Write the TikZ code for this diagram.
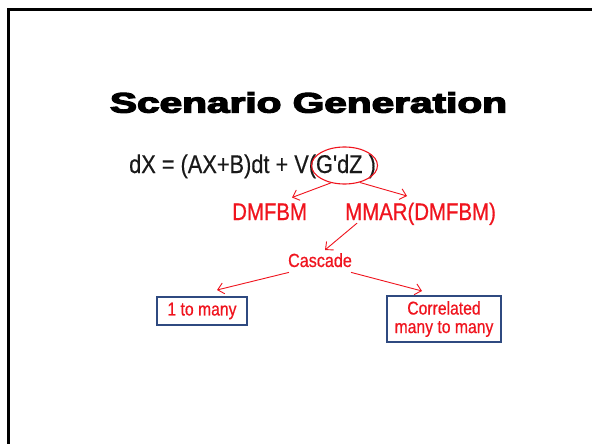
\documentclass[tikz,border=0pt]{standalone}
\usepackage{fontspec}
\setmainfont{Liberation Sans}
\newfontfamily\titlefont[FakeBold=4]{Liberation Sans Bold}
\newfontfamily\condfont[FakeStretch=0.85,FakeBold=0.6]{Liberation Sans}
\newfontfamily\eqfont[FakeStretch=0.85,FakeBold=0.4]{Liberation Sans}
\usetikzlibrary{arrows.meta,shapes.geometric,calc}
\definecolor{redtxt}{HTML}{F0141E}
\definecolor{boxblue}{HTML}{2F4A80}
\tikzset{
  redlabel/.style={text=redtxt, font=\condfont\fontsize{24}{26}\selectfont, inner sep=0pt},
  smalllabel/.style={text=redtxt, font=\condfont\fontsize{19}{21}\selectfont, inner sep=0pt},
  boxnode/.style={draw=boxblue, line width=1.3pt, text=redtxt, font=\condfont\fontsize{18.5}{18.5}\selectfont, align=center, inner sep=0pt},
  redarrow/.style={draw=redtxt, line width=0.9pt, -{Straight Barb[length=6pt,width=11pt]}},
  frameline/.style={line width=2.5pt, black}
}
\begin{document}
\begin{tikzpicture}[x=1pt,y=-1pt]
\useasboundingbox (0,0) rectangle (592,444);
\fill[white] (0,0) rectangle (592,444);
% frame
\coordinate (fbl) at (8.5,444);
\coordinate (ftl) at (8.5,9.5);
\coordinate (ftr) at (592,9.5);
\draw[frameline] (fbl) -- (ftl) -- (ftr);
% title
\node[inner sep=0pt] (title) at (308.5,102.5) {\resizebox{397pt}{20.5pt}{\titlefont Scenario Generation}};
% equation
\node[anchor=base west, inner sep=0pt, font=\eqfont\fontsize{25.6}{27}\selectfont, text=black!90] (eq) at (129,173) {dX = (AX+B)dt + V(G'dZ )};
\node[draw=redtxt, line width=1.1pt, ellipse, minimum width=66pt, minimum height=37pt, inner sep=0pt] (gdz) at (344.5,165.5) {};
% second level
\node[redlabel, anchor=base west] (dmfbm) at (232,220) {DMFBM};
\node[redlabel, anchor=base west] (mmar) at (345,220) {MMAR(DMFBM)};
\node[smalllabel, anchor=base] (cascade) at (320,267) {Cascade};
% boxes
\node[boxnode, minimum width=90pt, minimum height=28pt] (one) at (202,311) {1 to many};
\node[boxnode, minimum width=114pt, minimum height=46pt] (corr) at (444,319) {Correlated\\many to many};
% arrow tips
\coordinate (t1) at (292,197.5);
\coordinate (t2) at (407,196);
\coordinate (t3) at (325,250);
\coordinate (t4) at (217,290);
\coordinate (t5) at (422,291);
\draw[redarrow] (gdz.232) -- (t1);
\draw[redarrow] (gdz.-48) -- (t2);
\draw[redarrow] ($(mmar.south west)+(12,-2)$) -- (t3);
\draw[redarrow] ($(cascade.south west)+(1,5)$) -- (t4);
\draw[redarrow] ($(cascade.south east)+(-1,5)$) -- (t5);
\end{tikzpicture}
\end{document}
